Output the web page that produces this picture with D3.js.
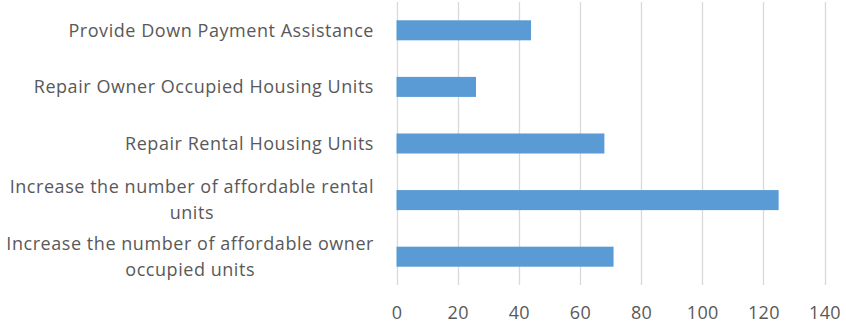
<!DOCTYPE html>
<html>
<head>
<meta charset="utf-8">
<script src="https://cdn.jsdelivr.net/npm/d3@7"></script>
<style>
  html, body { margin: 0; padding: 0; background: #fff; }
  svg { display: block; }
  text { font-family: "Open Sans", sans-serif; fill: #595959; }
</style>
</head>
<body>
<script>
// Housing goals: categories listed top to bottom
const categories = [
  "Provide Down Payment Assistance",
  "Repair Owner Occupied Housing Units",
  "Repair Rental Housing Units",
  "Increase the number of affordable rental units",
  "Increase the number of affordable owner occupied units"
];
// Wrapped label lines for each category
const labelLines = [
  ["Provide Down Payment Assistance"],
  ["Repair Owner Occupied Housing Units"],
  ["Repair Rental Housing Units"],
  ["Increase the number of affordable rental", "units"],
  ["Increase the number of affordable owner", "occupied units"]
];
const values = [44, 26, 68, 125, 71];
const xTicks = [0, 20, 40, 60, 80, 100, 120, 140];

const W = 846, H = 330;
const plot = { left: 396.5, right: 824.5, top: 2, bottom: 285 };

const svg = d3.select("body").append("svg").attr("width", W).attr("height", H);

const x = d3.scaleLinear().domain([0, 140]).range([plot.left, plot.right]);
const y = d3.scaleBand().domain(categories).range([plot.top, plot.bottom])
  .paddingInner(0.646).paddingOuter(0.323);

// Vertical gridlines
svg.append("g").selectAll("line").data(xTicks).join("line")
  .attr("x1", d => Math.round(x(d)) + 0.5).attr("x2", d => Math.round(x(d)) + 0.5)
  .attr("y1", plot.top).attr("y2", plot.bottom)
  .attr("stroke", "#d9d9d9").attr("stroke-width", 1.3);

// Bars
svg.append("g").selectAll("rect").data(categories).join("rect")
  .attr("x", x(0)).attr("y", d => y(d))
  .attr("width", (d, i) => x(values[i]) - x(0))
  .attr("height", y.bandwidth())
  .attr("fill", "#5b9bd5");

// X axis tick labels
const xAxis = d3.axisBottom(x).tickValues(xTicks).tickSize(0).tickPadding(0);
const gx = svg.append("g").attr("transform", `translate(0,${plot.bottom})`).call(xAxis);
gx.select(".domain").remove();
gx.selectAll("text")
  .attr("dy", null).attr("y", 34)
  .style("font-family", "'Open Sans', sans-serif")
  .style("font-size", "18px").style("letter-spacing", "0.3px")
  .style("fill", "#595959");

// Category labels, right-aligned against the plot
const lineGap = 26;
const lg = svg.append("g");
categories.forEach((c, i) => {
  const lines = labelLines[i];
  const cy = y(c) + y.bandwidth() / 2;
  const t = lg.append("text")
    .attr("text-anchor", "middle")
    .style("font-size", "18px")
    .style("letter-spacing", "0.55px");
  lines.forEach((ln, j) => {
    t.append("tspan")
      .attr("x", 0)
      .attr("y", cy + (j - (lines.length - 1) / 2) * lineGap)
      .attr("dy", "0.35em")
      .text(ln);
  });
  // position so the widest line ends at the right edge
  const w = t.node().getBBox().width;
  t.attr("transform", `translate(${374 - w / 2},0)`);
});
</script>
</body>
</html>
